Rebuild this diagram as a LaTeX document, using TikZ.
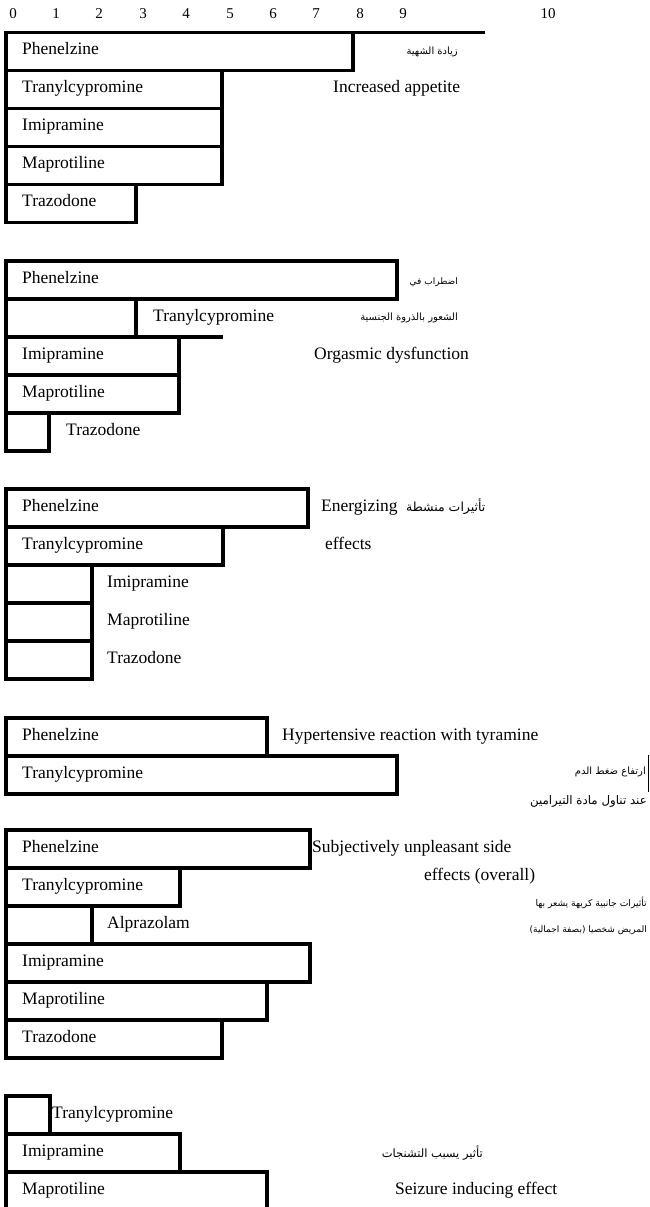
\documentclass[tikz,border=0pt]{standalone}
\usepackage{fontspec}
\setmainfont{Liberation Serif}
\newfontfamily\arabicfont[Script=Arabic]{DejaVu Sans}
\TeXXeTstate=1
\begin{document}
\begin{tikzpicture}[x=1pt,y=-1pt,
  bar/.style={draw, line width=3.2pt, rectangle, inner sep=0pt, outer sep=0pt, anchor=north west, minimum height=38pt},
  lab/.style={anchor=base west, inner sep=0pt, font=\fontsize{17.5}{20}\selectfont},
  axn/.style={anchor=base, inner sep=0pt, font=\fontsize{15}{17}\selectfont},
  ar/.style={anchor=east, inner sep=0pt, font=\arabicfont\fontsize{#1}{12}\selectfont},
  ar/.default=10,
  arw/.style={anchor=west, inner sep=0pt, font=\arabicfont\fontsize{12.5}{14}\selectfont},
  rule/.style={line width=3.2pt},
  thin/.style={line width=1.2pt}]
\useasboundingbox (0,0) rectangle (650,1207);
% axis
\foreach \i/\x in {0/13,1/56,2/99,3/143,4/186,5/230,6/273,7/316,8/360,9/403,10/548}
  \node[axn] (ax\i) at (\x,19) {\i};
% ---- section 1
\node[bar, minimum width=347pt] (a1) at (6,32.5) {};
\node[bar, minimum width=216pt] (a2) at (6,70.5) {};
\node[bar, minimum width=216pt] (a3) at (6,108.5) {};
\node[bar, minimum width=216pt] (a4) at (6,146.5) {};
\node[bar, minimum width=130pt] (a5) at (6,184.5) {};
\node[lab] (ta1) at (22,54.5) {Phenelzine};
\node[lab] (ta2) at (22,92.5) {Tranylcypromine};
\node[lab] (ta3) at (22,130.5) {Imipramine};
\node[lab] (ta4) at (22,168.5) {Maprotiline};
\node[lab] (ta5) at (22,206.5) {Trazodone};
\coordinate (aL1) at (355,32.5);
\coordinate (aL2) at (485,32.5);
\draw[rule] (aL1) -- (aL2);
\node[ar] (ara) at (458,52) {\beginR زيادة الشهية\endR};
\node[lab] (ena) at (333,92.5) {Increased appetite};
% ---- section 2
\node[bar, minimum width=391pt] (b1) at (6,261) {};
\node[bar, minimum width=130pt] (b2) at (6,299) {};
\node[bar, minimum width=173pt] (b3) at (6,337) {};
\node[bar, minimum width=173pt] (b4) at (6,375) {};
\node[bar, minimum width=43pt] (b5) at (6,413) {};
\coordinate (bL2) at (223,337);
\draw[rule] (b2.south east) -- (bL2);
\node[lab] (tb1) at (22,283) {Phenelzine};
\node[lab] (tb2) at (153,321) {Tranylcypromine};
\node[lab] (tb3) at (22,359) {Imipramine};
\node[lab] (tb4) at (22,397) {Maprotiline};
\node[lab] (tb5) at (66,435) {Trazodone};
\node[ar=9] (arb1) at (458,282) {\beginR اضطراب في\endR};
\node[ar] (arb2) at (458,318) {\beginR الشعور بالذروة الجنسية\endR};
\node[lab] (enb) at (314,359) {Orgasmic dysfunction};
% ---- section 3
\node[bar, minimum width=302pt] (c1) at (6,489) {};
\node[bar, minimum width=217pt] (c2) at (6,527) {};
\node[bar, minimum width=86pt] (c3) at (6,565) {};
\node[bar, minimum width=86pt] (c4) at (6,603) {};
\node[bar, minimum width=86pt] (c5) at (6,641) {};
\node[lab] (tc1) at (22,511) {Phenelzine};
\node[lab] (tc2) at (22,549) {Tranylcypromine};
\node[lab] (tc3) at (107,587) {Imipramine};
\node[lab] (tc4) at (107,625) {Maprotiline};
\node[lab] (tc5) at (107,663) {Trazodone};
\node[lab] (enc1) at (321,511) {Energizing};
\node[arw] (arc) at (406,507) {\beginR تأثيرات منشطة\endR};
\node[lab] (enc2) at (325,549) {effects};
% ---- section 4
\node[bar, minimum width=261pt] (d1) at (6,718) {};
\node[bar, minimum width=391pt] (d2) at (6,756) {};
\node[lab] (td1) at (22,740) {Phenelzine};
\node[lab] (td2) at (22,778) {Tranylcypromine};
\node[lab] (end) at (282,740) {Hypertensive reaction with tyramine};
\node[ar] (ard1) at (646,772) {\beginR ارتفاع ضغط الدم\endR};
\coordinate (dB1) at (648.5,755);
\coordinate (dB2) at (648.5,792);
\draw[thin] (dB1) -- (dB2);
\node[ar=11.8] (ard2) at (647,801) {\beginR عند تناول مادة التيرامين\endR};
% ---- section 5
\node[bar, minimum width=304pt] (e1) at (6,830) {};
\node[bar, minimum width=174pt] (e2) at (6,868) {};
\node[bar, minimum width=86pt] (e3) at (6,906) {};
\node[bar, minimum width=304pt] (e4) at (6,944) {};
\node[bar, minimum width=261pt] (e5) at (6,982) {};
\node[bar, minimum width=216pt] (e6) at (6,1020) {};
\node[lab] (te1) at (22,852) {Phenelzine};
\node[lab] (te2) at (22,890) {Tranylcypromine};
\node[lab] (te3) at (107,928) {Alprazolam};
\node[lab] (te4) at (22,966) {Imipramine};
\node[lab] (te5) at (22,1004) {Maprotiline};
\node[lab] (te6) at (22,1042) {Trazodone};
\node[lab] (ene1) at (312,852) {Subjectively unpleasant side};
\node[lab] (ene2) at (424,880) {effects (overall)};
\node[ar=9.2] (are1) at (647,903) {\beginR تأثيرات جانبية كريهة يشعر بها\endR};
\node[ar=9] (are2) at (647,930) {\beginR المريض شخصيا (بصفة اجمالية)\endR};
% ---- section 6
\node[bar, minimum width=44pt] (f1) at (6,1096) {};
\node[bar, minimum width=174pt] (f2) at (6,1134) {};
\node[bar, minimum width=261pt] (f3) at (6,1172) {};
\node[lab] (tf1) at (52,1118) {Tranylcypromine};
\node[lab] (tf2) at (22,1156) {Imipramine};
\node[lab] (tf3) at (22,1194) {Maprotiline};
\node[ar=11.5] (arf) at (483,1153) {\beginR تأثير يسبب التشنجات\endR};
\node[lab] (enf) at (395,1194) {Seizure inducing effect};
\end{tikzpicture}
\end{document}
